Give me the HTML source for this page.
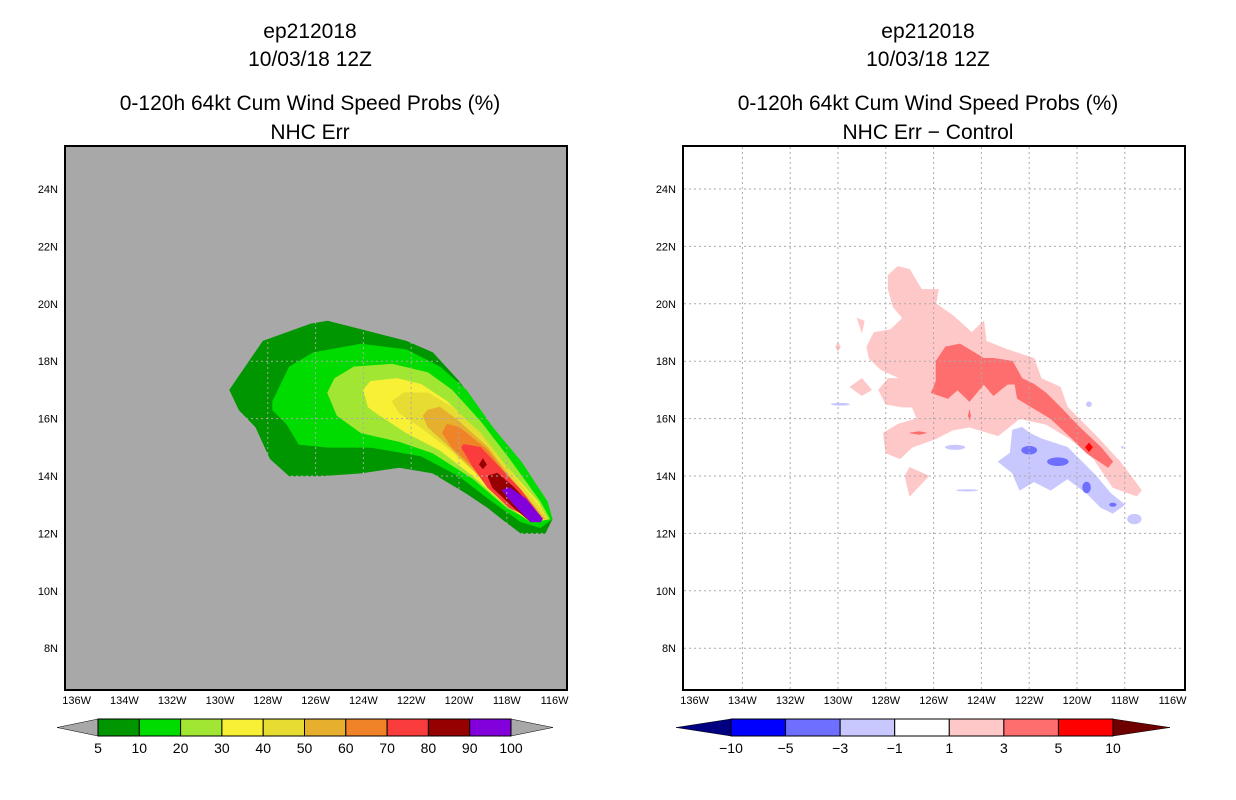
<!DOCTYPE html>
<html><head><meta charset="utf-8"><style>
html,body{margin:0;padding:0;background:#fff;}
svg{display:block;font-family:"Liberation Sans",sans-serif;}
</style></head><body>
<svg id="fig" width="1236" height="800" viewBox="0 0 1236 800">
<g id="titles" font-size="21" text-anchor="middle" fill="#000">
<text x="310" y="38">ep212018</text>
<text x="310" y="66">10/03/18 12Z</text>
<text x="310" y="110">0-120h 64kt Cum Wind Speed Probs (%)</text>
<text x="310" y="139">NHC Err</text>
<text x="928" y="38">ep212018</text>
<text x="928" y="66">10/03/18 12Z</text>
<text x="928" y="110">0-120h 64kt Cum Wind Speed Probs (%)</text>
<text x="928" y="139">NHC Err − Control</text>
</g>
<g id="left"></g>
<g id="right"></g>
<g id="cbars"></g>
</svg>
<script>
// ---- data: contour regions (lon in degrees W, lat in degrees N) ----
const probLevels = [5,10,20,30,40,50,60,70,80,90,100];
const probColors = ["#009600","#00dc00","#a0e632","#f7f035","#e6dc32","#e6af2d","#f08228","#fa3c3c","#960000","#8200dc"];
const diffLevels = ["−10","−5","−3","−1","1","3","5","10"];
const diffColors = ["#000080","#0000ff","#6e6eff","#c8c8ff","#ffffff","#ffc8c8","#ff6e6e","#ff0000","#6e0000"];
const lonTicks = [136,134,132,130,128,126,124,122,120,118,116];
const latTicks = [8,10,12,14,16,18,20,22,24];

const p5 = [[129.6,17.0],[128.2,18.7],[126.2,19.3],[125.5,19.4],[124.1,19.1],[122.2,18.7],[121.1,18.3],[120.0,17.3],[118.8,15.9],[117.7,14.6],[116.6,13.3],[116.1,12.5],[116.4,12.0],[117.4,12.0],[118.2,12.5],[118.8,12.9],[119.7,13.4],[121.1,14.1],[122.5,14.3],[124.1,14.1],[125.8,14.0],[127.1,14.0],[127.9,14.6],[128.5,15.7],[129.2,16.3]];
const p10 = [[127.8,16.6],[127.1,17.8],[126.1,18.3],[124.1,18.6],[122.2,18.4],[120.8,17.8],[119.7,17.0],[118.6,15.7],[117.4,14.5],[116.3,13.1],[116.1,12.5],[116.6,12.2],[117.4,12.4],[118.6,13.1],[120.0,14.0],[121.6,14.7],[123.7,15.0],[125.5,15.0],[126.7,15.1],[127.2,15.8],[127.8,16.3]];
const p20 = [[125.5,16.9],[125.2,17.4],[124.4,17.8],[122.8,17.9],[121.3,17.6],[120.3,17.0],[119.1,15.9],[117.9,14.6],[116.6,13.1],[116.2,12.5],[116.9,12.4],[118.0,12.9],[119.4,13.9],[121.1,14.8],[122.5,15.2],[124.1,15.5],[125.1,16.1]];
const p30 = [[124.0,17.0],[123.7,17.3],[122.6,17.4],[121.6,17.2],[120.5,16.6],[119.4,15.7],[118.2,14.5],[116.7,13.1],[116.3,12.5],[117.0,12.4],[118.2,13.1],[119.4,14.0],[120.8,14.9],[122.2,15.5],[123.3,16.1],[123.8,16.4]];
const p40 = [[122.8,16.6],[122.3,16.9],[121.3,16.9],[120.3,16.4],[119.1,15.5],[118.0,14.3],[116.7,13.0],[116.3,12.5],[117.0,12.5],[118.2,13.2],[119.4,14.2],[120.5,15.0],[121.6,15.7],[122.5,16.2]];
const p50 = [[121.5,16.1],[121.3,16.3],[120.8,16.4],[120.0,15.9],[118.8,15.0],[117.9,14.0],[116.7,12.8],[116.4,12.5],[117.1,12.5],[118.3,13.3],[119.4,14.2],[120.5,15.1],[121.3,15.7]];
const p60 = [[120.7,15.5],[120.5,15.8],[120.0,15.7],[118.8,14.9],[117.9,13.9],[116.7,12.7],[116.5,12.5],[117.1,12.5],[118.3,13.3],[119.4,14.3],[120.3,15.0]];
const p70 = [[119.9,15.0],[119.8,15.1],[119.1,15.0],[118.3,14.3],[117.4,13.5],[116.6,12.6],[116.9,12.5],[117.9,12.9],[118.8,13.6],[119.4,14.3]];
const p80 = [[118.8,14.0],[118.4,14.1],[117.7,13.6],[116.6,12.6],[117.0,12.4],[117.7,12.9],[118.6,13.6]];
const p80b = [[119.15,14.4],[119.0,14.6],[118.85,14.4],[119.0,14.25]];
const p90 = [[118.2,13.5],[117.9,13.6],[117.2,13.2],[116.5,12.5],[116.6,12.4],[117.0,12.4],[117.7,13.0]];

const d1main = [[127.9,21.0],[127.5,21.3],[127.0,21.2],[126.5,20.5],[125.8,20.5],[125.9,20.0],[125.2,19.6],[124.4,19.0],[123.9,19.4],[123.8,18.7],[122.9,18.4],[121.8,18.1],[121.5,17.4],[120.7,17.1],[120.4,16.4],[119.2,15.4],[118.2,14.5],[117.3,13.5],[117.5,13.3],[118.5,13.6],[119.3,14.6],[120.3,15.3],[121.3,15.8],[122.4,16.0],[123.3,15.4],[124.5,15.7],[125.2,15.6],[125.9,15.3],[126.9,15.0],[127.4,14.6],[128.0,14.8],[128.1,15.5],[127.5,15.8],[126.7,16.0],[126.9,16.4],[127.3,16.4],[128.0,16.5],[128.3,17.0],[127.9,17.4],[127.4,17.4],[128.2,17.7],[128.7,18.1],[128.8,18.5],[128.5,19.0],[127.8,19.1],[127.3,19.5],[127.7,19.9],[127.9,20.5]];
const d1a = [[129.2,19.5],[128.9,19.4],[129.0,19.0]];
const d1b = [[130.1,18.5],[130.0,18.65],[129.9,18.5],[130.0,18.35]];
const d1c = [[129.5,17.1],[129.0,17.4],[128.6,17.0],[129.0,16.8]];
const d1d = [[127.2,14.0],[127.0,14.3],[126.2,14.0],[127.0,13.3]];
const d3main = [[126.1,16.9],[125.9,17.3],[125.9,18.0],[125.5,18.5],[124.9,18.6],[123.9,18.1],[123.5,18.1],[122.7,18.0],[122.3,17.4],[121.8,17.2],[121.3,16.9],[120.7,16.4],[119.9,15.7],[119.0,15.0],[118.5,14.5],[118.7,14.3],[119.6,14.8],[120.2,15.3],[121.1,16.0],[122.1,16.5],[122.5,16.7],[122.6,17.2],[122.9,17.2],[123.5,16.8],[123.9,17.2],[124.5,16.6],[125.0,17.0],[125.4,16.7]];
const d3a = [[124.55,16.1],[124.5,16.3],[124.45,16.1],[124.5,15.95]];
const d3b = [[127.0,15.5],[126.6,15.55],[126.3,15.5],[126.6,15.45]];
const d5a = [[119.65,15.0],[119.5,15.15],[119.35,15.0],[119.5,14.85]];
const dm1main = [[123.3,14.5],[122.8,14.8],[122.7,15.6],[122.3,15.7],[122.0,15.5],[121.5,15.3],[120.4,15.0],[119.8,14.5],[119.2,14.0],[118.6,13.4],[118.0,13.0],[118.5,12.7],[119.0,12.9],[119.6,13.4],[120.4,13.9],[121.1,13.5],[121.8,13.8],[122.4,13.5],[122.7,14.1]];
// small ellipses: [lonW, lat, rxDeg, ryDeg]
const dm1blobs = [[125.1,15.0,0.42,0.09],[124.6,13.5,0.45,0.04],[129.9,16.5,0.4,0.05],[119.5,16.5,0.12,0.1],[117.6,12.5,0.3,0.18],[118.1,15.0,0.05,0.05]];
const dm3blobs = [[122.0,14.9,0.33,0.15],[120.8,14.5,0.45,0.15],[119.6,13.6,0.18,0.2],[118.5,13.0,0.15,0.07]];

// ---- helpers ----
const NS="http://www.w3.org/2000/svg";
function mk(tag, parent, attrs){const e=document.createElementNS(NS,tag);for(const k in attrs)e.setAttribute(k,attrs[k]);parent.appendChild(e);return e;}
function makeAxes(x136){
  return {x: lon => x136 + (136-lon)*23.9, y: lat => 189 + (24-lat)*28.7};
}
function poly(g, ax, pts, color, name){
  const d = pts.map(p=>ax.x(p[0]).toFixed(1)+","+ax.y(p[1]).toFixed(1)).join(" ");
  const e = mk("polygon", g, {points:d, fill:color, stroke:color, "stroke-width":"0.6"});
  
  
}
function blob(g, ax, b, color, name){
  const e = mk("ellipse", g, {cx:ax.x(b[0]), cy:ax.y(b[1]), rx:b[2]*23.9, ry:b[3]*28.7, fill:color});
  
  
}
function panel(g, x0, bg, gridColor, fillsFn){
  const ax = makeAxes(x0+11.6);
  mk("rect", g, {x:x0, y:146, width:502, height:544, fill:bg});
  fillsFn(ax);
  const grid = mk("g", g, {stroke:gridColor, "stroke-width":"1", "stroke-dasharray":"2,3"});
  
  
  lonTicks.slice(1,-1).forEach(l=>mk("line",grid,{x1:ax.x(l),x2:ax.x(l),y1:147,y2:689}));
  latTicks.forEach(l=>mk("line",grid,{x1:x0+1,x2:x0+501,y1:ax.y(l),y2:ax.y(l)}));
  const fr = mk("rect", g, {x:x0, y:146, width:502, height:544, fill:"none", stroke:"#000", "stroke-width":"2"});
  
  
  lonTicks.forEach(l=>{
    const t = mk("text", g, {x:ax.x(l), y:704, "font-size":"11", "text-anchor":"middle"});
    t.textContent = l+"W";
    
    
  });
  latTicks.forEach(l=>{
    const t = mk("text", g, {x:x0-7, y:ax.y(l)+4, "font-size":"11", "text-anchor":"end"});
    t.textContent = l+"N";
    
    
  });
}
const L = document.getElementById("left"), R = document.getElementById("right");
panel(L, 65, "#a8a8a8", "#aaaaaa", ax=>{
  const layers=[p5,p10,p20,p30,p40,p50,p60,p70,p80];
  layers.forEach((pts,i)=>poly(L, ax, pts, probColors[i], "prob-contour-"+probLevels[i]));
  poly(L, ax, p80b, probColors[8], "prob-contour-80-spot");
  poly(L, ax, p90, probColors[9], "prob-contour-90");
});
panel(R, 683, "#ffffff", "#aaaaaa", ax=>{
  [d1main,d1a,d1b,d1c,d1d].forEach(p=>poly(R, ax, p, diffColors[5], "diff-contour-1"));
  [d3main,d3a,d3b].forEach(p=>poly(R, ax, p, diffColors[6], "diff-contour-3"));
  poly(R, ax, d5a, diffColors[7], "diff-contour-5");
  poly(R, ax, dm1main, diffColors[3], "diff-contour-minus1");
  dm1blobs.forEach(b=>blob(R, ax, b, diffColors[3], "diff-contour-minus1-spot"));
  dm3blobs.forEach(b=>blob(R, ax, b, diffColors[2], "diff-contour-minus3"));
});

// ---- colorbars ----
const C = document.getElementById("cbars");
function colorbar(x0, x1, tipL, tipR, boxColors, labels, triL, triR, name){
  const g = mk("g", C, {});
  
  
  const n = boxColors.length, w=(x1-x0)/n, y0=719, y1=736;
  const a = mk("polygon", g, {points:`${tipL},727.5 ${x0},${y0} ${x0},${y1}`, fill:triL, stroke:"#000","stroke-width":"0.5"});
  
  
  const b = mk("polygon", g, {points:`${tipR},727.5 ${x1},${y0} ${x1},${y1}`, fill:triR, stroke:"#000","stroke-width":"0.5"});
  
  
  boxColors.forEach((c,i)=>{
    const r = mk("rect", g, {x:x0+i*w, y:y0, width:w, height:y1-y0, fill:c, stroke:"#000", "stroke-width":"1"});
    
    
  });
  labels.forEach((s,i)=>{
    const t = mk("text", g, {x:x0+i*w, y:753, "font-size":"14", "text-anchor":"middle"});
    t.textContent = s;
    
    
  });
}
colorbar(98, 511, 57, 553, probColors, probLevels, "#a8a8a8", "#a8a8a8", "prob-colorbar");
colorbar(731, 1113, 676, 1170, diffColors.slice(1,8), diffLevels, diffColors[0], diffColors[8], "diff-colorbar");
</script>
</body></html>
